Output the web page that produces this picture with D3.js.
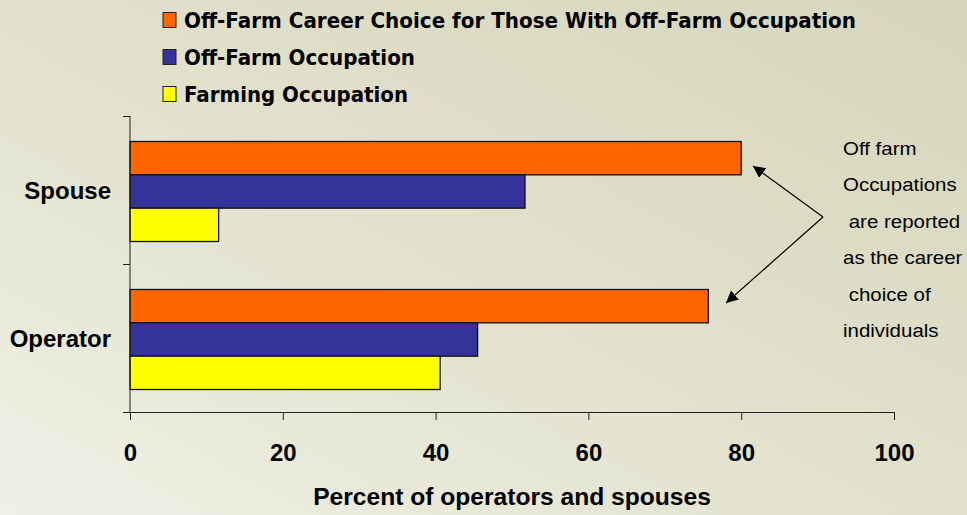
<!DOCTYPE html>
<html>
<head>
<meta charset="utf-8">
<script src="https://cdn.jsdelivr.net/npm/d3@7"></script>
<style>
  html, body { margin: 0; padding: 0; background: #e4e4d2; }
  svg { display: block; }
</style>
</head>
<body>
<div id="chart"></div>
<script>
// categories down the y axis
const categories = ['Spouse', 'Operator'];
// series, in legend / bar order
const seriesNames = [
    'Off-Farm Career Choice for Those With Off-Farm Occupation',
    'Off-Farm Occupation',
    'Farming Occupation'
];
const offFarmCareer = [80, 75.7];
const offFarmOccupation = [51.7, 45.5];
const farmingOccupation = [11.6, 40.6];
const xTicks = [0, 20, 40, 60, 80, 100];
const noteLines = ['Off farm', 'Occupations', ' are reported', 'as the career', ' choice of', 'individuals'];

const colors = ['#ff6600', '#333399', '#ffff00'];
const legendWidths = [672, 231, 224];

let width = 967, height = 515;

let svg = d3.select('#chart').append('svg')
    .attr('width', width).attr('height', height);

// background: soft beige gradient, lighter to the bottom-left
let defs = svg.append('defs');
let grad = defs.append('linearGradient').attr('id', 'bg')
    .attr('x1', '0%').attr('y1', '100%').attr('x2', '100%').attr('y2', '0%');
grad.append('stop').attr('offset', '0%').attr('stop-color', '#f0f0e6');
grad.append('stop').attr('offset', '45%').attr('stop-color', '#e2e2ce');
grad.append('stop').attr('offset', '100%').attr('stop-color', '#d6d6bc');
svg.append('rect').attr('width', width).attr('height', height).attr('fill', 'url(#bg)');

defs.append('marker').attr('id', 'arrow')
    .attr('viewBox', '0 0 10 10').attr('refX', 10).attr('refY', 5)
    .attr('markerWidth', 12).attr('markerHeight', 12)
    .attr('markerUnits', 'userSpaceOnUse')
    .attr('orient', 'auto')
  .append('path').attr('d', 'M0,0 L10,5 L0,10 z').attr('fill', '#000');

// scales
let x = d3.scaleLinear().domain([0, 100]).range([130, 894]);
let y = d3.scaleBand().domain(categories).range([116, 412]);
let inner = d3.scaleBand().domain(seriesNames).range([25.5, 125.5]);

let rows = categories.map((c, i) => ({
    cat: c,
    vals: [offFarmCareer[i], offFarmOccupation[i], farmingOccupation[i]]
}));

// bars
let groups = svg.selectAll('g.row').data(rows).enter().append('g')
    .attr('class', 'row')
    .attr('transform', d => 'translate(0,' + y(d.cat) + ')');

groups.selectAll('rect')
    .data(d => d.vals.map((v, k) => ({ v: v, k: k })))
    .enter().append('rect')
    .attr('x', x(0))
    .attr('y', d => inner(seriesNames[d.k]))
    .attr('width', d => x(d.v) - x(0))
    .attr('height', inner.bandwidth())
    .attr('fill', d => colors[d.k])
    .attr('stroke', '#111')
    .attr('stroke-width', 1.3);

// x axis
let xAxis = svg.append('g')
    .attr('transform', 'translate(0,412)')
    .call(d3.axisBottom(x).tickValues(xTicks).tickSize(8).tickPadding(24).tickSizeOuter(0));
xAxis.select('.domain').attr('d', 'M123,0.5H' + x(100)).attr('stroke', '#222');
xAxis.selectAll('line').attr('stroke', '#222');
xAxis.selectAll('text')
    .attr('font-family', '"Liberation Sans", Arial, sans-serif')
    .attr('font-weight', 'bold').attr('font-size', 24).attr('fill', '#000');

// y axis: ticks at the band edges, labels at the centres
let yAxis = svg.append('g').attr('transform', 'translate(130,0)');
yAxis.append('line').attr('x1', 0).attr('x2', 0).attr('y1', y.range()[0]).attr('y2', y.range()[1])
    .attr('stroke', '#222');
yAxis.selectAll('line.tick')
    .data(categories.map(c => y(c)))
    .enter().append('line').attr('class', 'tick')
    .attr('x1', -7).attr('x2', 0)
    .attr('y1', d => d + 0.5).attr('y2', d => d + 0.5)
    .attr('stroke', '#222');
yAxis.selectAll('text')
    .data(categories).enter().append('text')
    .attr('x', -19)
    .attr('y', d => y(d) + y.bandwidth() / 2 + 9)
    .attr('text-anchor', 'end')
    .attr('font-family', '"Liberation Sans", Arial, sans-serif')
    .attr('font-weight', 'bold').attr('font-size', 24)
    .text(d => d);

// axis title
svg.append('text')
    .attr('x', 512).attr('y', 505)
    .attr('text-anchor', 'middle')
    .attr('font-family', '"Liberation Sans", Arial, sans-serif')
    .attr('font-weight', 'bold').attr('font-size', 24.6)
    .text('Percent of operators and spouses');

// legend
let legend = svg.append('g');
let leg = legend.selectAll('g').data(seriesNames).enter().append('g')
    .attr('transform', (d, i) => 'translate(163,' + (12.5 + i * 37) + ')');
leg.append('rect')
    .attr('width', 13).attr('height', 15)
    .attr('fill', (d, i) => colors[i])
    .attr('stroke', '#222').attr('stroke-width', 1);
leg.append('text')
    .attr('x', 21).attr('y', 15.5)
    .attr('font-family', '"DejaVu Sans", Tahoma, sans-serif')
    .attr('font-weight', 'bold').attr('font-size', 22)
    .attr('textLength', (d, i) => legendWidths[i])
    .attr('lengthAdjust', 'spacingAndGlyphs')
    .text(d => d);

// annotation
let note = svg.append('g').attr('transform', 'translate(843,0)');
note.selectAll('text').data(noteLines).enter().append('text')
    .attr('transform', (d, i) => 'translate(0,' + (155 + i * 36.4) + ') scale(1.17,1)')
    .attr('font-family', '"Liberation Sans", Arial, sans-serif')
    .attr('font-size', 17.5)
    .style('white-space', 'pre')
    .text(d => d);

let vertex = [823, 217];
let tips = [[753, 166], [726, 303]];
svg.selectAll('line.arrow').data(tips).enter().append('line')
    .attr('class', 'arrow')
    .attr('x1', vertex[0]).attr('y1', vertex[1])
    .attr('x2', d => d[0]).attr('y2', d => d[1])
    .attr('stroke', '#000').attr('stroke-width', 1.2)
    .attr('marker-end', 'url(#arrow)');
</script>
</body>
</html>
